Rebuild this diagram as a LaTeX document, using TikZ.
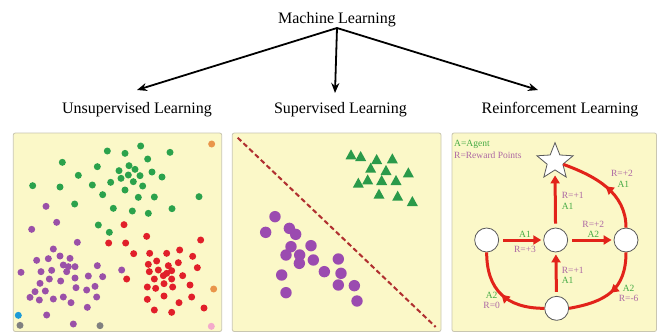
\documentclass[tikz,border=0pt]{standalone}
\usepackage{fontspec}
\setmainfont{Liberation Serif}
\usetikzlibrary{arrows.meta,shapes.geometric,decorations.markings}
\definecolor{panelfill}{HTML}{FBF8C8}
\definecolor{paneldraw}{HTML}{C9C6B0}
\definecolor{dgreen}{HTML}{2BA24C}
\definecolor{dpurple}{HTML}{9A50A8}
\definecolor{dred}{HTML}{E11F2A}
\definecolor{dorange}{HTML}{E9954A}
\definecolor{dblue}{HTML}{1E9BD7}
\definecolor{dgray}{HTML}{808080}
\definecolor{dpink}{HTML}{F4AACB}
\definecolor{tgreen}{HTML}{2A9A4A}
\definecolor{mpurple}{HTML}{9B4BB0}
\definecolor{sepred}{HTML}{B03030}
\definecolor{rred}{HTML}{E2231A}
\definecolor{lgreen}{HTML}{44AA44}
\definecolor{lpurple}{HTML}{AD68A4}
\begin{document}
\begin{tikzpicture}[x=1pt,y=1pt,
  title/.style={font=\fontsize{16}{19}\selectfont, inner sep=0pt, anchor=base},
  treearrow/.style={line width=1.8pt, -{Stealth[length=10pt,width=8pt]}},
  panel/.style={fill=panelfill, draw=paneldraw, line width=0.8pt, rounded corners=2pt},
  state/.style={circle, fill=white, draw=black!65, line width=0.8pt, minimum size=24pt, inner sep=0pt},
  goal/.style={star, star points=5, star point ratio=2.3, fill=white, draw=black!65, line width=0.8pt, minimum size=38pt, inner sep=0pt},
  ra/.style={draw=rred, line width=3pt, -{Triangle[length=8pt,width=9pt]}, shorten <=4pt, shorten >=2pt},
  rarc/.style={draw=rred, line width=3pt, postaction={decorate},
    decoration={markings, mark=at position 0.5 with {\arrow[rred]{Triangle[length=8pt,width=9pt]}}}},
  lg/.style={text=lgreen, font=\fontsize{9.5}{11}\selectfont, inner sep=0pt},
  lp/.style={text=lpurple, font=\fontsize{9.5}{11}\selectfont, inner sep=0pt}
]
\useasboundingbox (0,0) rectangle (660,333);
\fill[white] (0,0) rectangle (660,333);

% titles
\node[title] (ml) at (337,310) {Machine Learning};
\node[title] (ul) at (137,220) {Unsupervised Learning};
\node[title] (sl) at (340.5,220) {Supervised Learning};
\node[title] (rl) at (560,220) {Reinforcement Learning};
\coordinate (root) at (337,305);
\coordinate (eu) at (137,243);
\coordinate (es) at (335,240);
\coordinate (er) at (538,243);
\draw[treearrow] (root) -- (eu);
\draw[treearrow] (root) -- (es);
\draw[treearrow] (root) -- (er);

% panels
\draw[panel] (13.3,1.5) rectangle (221.7,200);
\draw[panel] (232.3,1.5) rectangle (441,200);
\draw[panel] (452,1.5) rectangle (656.5,200);

% unsupervised scatter
\begin{scope}[shift={(0pt,208pt)},x=0.33333pt,y=-0.33333pt]
\foreach \x/\y in {322/78,375/85,422/63,510/82,443/102,187/112,292/125,387/122,405/133,357/137,385/150,420/152,456/141,486/156,235/151,363/160,332/172,400/170,277/180,428/183,98/182,180/186,375/195,308/209,415/217,463/216,597/215,224/237,340/250,397/258,445/265,516/251,295/300,328/322}
  \fill[dgreen] (\x,\y) circle[radius=3.5pt];
\foreach \x/\y in {138/244,170/292,95/313,232/352,160/372,180/393,210/400,110/406,145/401,190/420,205/425,225/425,200/440,63/442,123/440,155/436,292/422,365/435,182/468,225/459,265/453,308/455,120/475,148/462,228/488,285/484,105/500,136/498,90/517,118/525,160/522,190/516,213/533,260/495,290/516,262/547,140/570,220/597}
  \fill[dpurple] (\x,\y) circle[radius=3.5pt];
\foreach \x/\y in {372/299,440/334,602/345,326/354,377/354,401/386,449/385,500/385,539/375,578/394,445/418,470/408,505/422,535/413,592/428,448/440,475/435,500/445,515/437,380/462,463/462,490/452,515/462,548/452,442/486,467/490,492/476,518/486,570/480,442/523,492/513,575/516,463/555,515/562,537/533,612/549}
  \fill[dred] (\x,\y) circle[radius=3.5pt];
\fill[dorange] (635,57) circle[radius=3.5pt];
\fill[dorange] (641,492) circle[radius=3.5pt];
\fill[dblue] (55,571) circle[radius=3.5pt];
\fill[dgray] (60,601) circle[radius=3.5pt];
\fill[dgray] (300,602) circle[radius=3.5pt];
\fill[dpink] (634,604) circle[radius=3.5pt];
\end{scope}

% supervised
\begin{scope}[shift={(225pt,208pt)},x=0.33333pt,y=-0.33333pt]
\draw[sepred, line width=2pt, dash pattern=on 5pt off 3pt] (38,38) -- (632,606);
\foreach \x/\y in {378/88,407/93,455/102,502/100,437/128,483/135,550/142,400/173,428/163,470/165,513/165,462/206,518/212,562/228}
  \fill[tgreen] (\x,\y) ++(0pt,5pt) -- ++(5.5pt,-10pt) -- ++(-11pt,0pt) -- cycle;
\foreach \x/\y in {150/275,122/322,193/310,212/328,198/365,183/390,224/390,258/362,223/415,265/405,340/402,170/450,298/440,348/445,340/480,388/482,183/503,396/528}
  \fill[mpurple] (\x,\y) circle[radius=5.7pt];
\end{scope}

% reinforcement
\begin{scope}[shift={(440pt,203pt)},x=0.33333pt,y=-0.33333pt]
\node[state] (L) at (140,330) {};
\node[state] (C) at (347,330) {};
\node[state] (R) at (558,330) {};
\node[state] (B) at (350,535) {};
\node[goal] (S) at (345,95) {};
\node[lg, anchor=west] (leg1) at (42,42) {A=Agent};
\node[lp, anchor=west] (leg2) at (42,75) {R=Reward Points};
\node[lg] (a1a) at (255,312) {A1};
\node[lp] (r3) at (255,358) {R=+3};
\node[lp] (r2a) at (460,283) {R=+2};
\node[lg] (a2a) at (460,312) {A2};
\node[lp, anchor=west] (r1a) at (365,196) {R=+1};
\node[lg, anchor=west] (a1b) at (365,230) {A1};
\node[lp, anchor=west] (r1b) at (365,420) {R=+1};
\node[lg, anchor=west] (a1c) at (365,452) {A1};
\node[lp] (r2b) at (546,130) {R=+2};
\node[lg] (a1d) at (550,163) {A1};
\node[lg] (a2b) at (566,475) {A2};
\node[lp] (r6) at (566,505) {R=-6};
\node[lg] (a2c) at (155,495) {A2};
\node[lp] (r0) at (155,525) {R=0};
\end{scope}
\draw[ra] (L) -- (C);
\draw[ra] (C) -- (R);
\draw[ra, shorten >=5pt] (C) -- (S.south);
\draw[ra] (B) -- (C);
\draw[rarc] (R.north) to[out=90,in=-20] (S.-18);
\draw[rarc] (R.south) to[out=-90,in=10,looseness=1.2] (B.east);
\draw[rarc] (B.west) to[out=180,in=-90,looseness=1.2] (L.south);
\end{tikzpicture}
\end{document}
